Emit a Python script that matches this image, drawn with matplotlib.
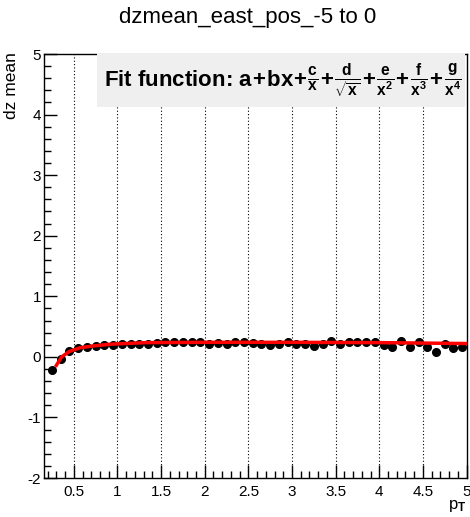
import matplotlib
matplotlib.use("Agg")
import matplotlib.pyplot as plt
from matplotlib.patches import Rectangle
from matplotlib.ticker import MultipleLocator

plt.rcParams["font.family"] = ["Liberation Sans", "DejaVu Sans"]
plt.rcParams["mathtext.fontset"] = "custom"
plt.rcParams["mathtext.rm"] = "Liberation Sans:bold"
plt.rcParams["mathtext.it"] = "Liberation Sans:bold"
plt.rcParams["mathtext.bf"] = "Liberation Sans:bold"
plt.rcParams["mathtext.sf"] = "Liberation Sans:bold"

# dz mean per pT bin
pt = [0.25, 0.35, 0.45, 0.55, 0.65, 0.75, 0.85, 0.95, 1.05, 1.15, 1.25, 1.35,
      1.45, 1.55, 1.65, 1.75, 1.85, 1.95, 2.05, 2.15, 2.25, 2.35, 2.45, 2.55,
      2.65, 2.75, 2.85, 2.95, 3.05, 3.15, 3.25, 3.35, 3.45, 3.55, 3.65, 3.75,
      3.85, 3.95, 4.05, 4.15, 4.25, 4.35, 4.45, 4.55, 4.65, 4.75, 4.85, 4.95]
dz_mean = [-0.22, -0.03, 0.10, 0.14, 0.17, 0.18, 0.19, 0.20, 0.22, 0.22, 0.22, 0.22,
           0.23, 0.24, 0.24, 0.24, 0.24, 0.24, 0.22, 0.23, 0.21, 0.24, 0.24, 0.23,
           0.22, 0.19, 0.22, 0.25, 0.22, 0.22, 0.18, 0.22, 0.26, 0.22, 0.25, 0.24,
           0.24, 0.24, 0.20, 0.17, 0.26, 0.17, 0.25, 0.17, 0.08, 0.22, 0.14, 0.16]

# fitted curve samples
fit_x = [0.30, 0.36, 0.45, 0.57, 0.72, 0.93, 1.33, 2.0, 3.0, 4.0, 5.0]
fit_y = [-0.14, 0.00, 0.09, 0.15, 0.18, 0.21, 0.235, 0.24, 0.24, 0.235, 0.22]

W, H = 470, 517
fig = plt.figure(figsize=(W / 100, H / 100), dpi=100)
ax = fig.add_axes([43.7 / W, 1 - 478 / H, (466.5 - 43.7) / W, (478 - 54) / H])

ax.set_xlim(0.155, 5.0)
ax.set_ylim(-2, 5)

for gx in [0.5, 1.0, 1.5, 2.0, 2.5, 3.0, 3.5, 4.0, 4.5]:
    ax.axvline(gx, color="black", lw=0.8, ls=(0, (1, 2)), zorder=0)

ax.plot(pt, dz_mean, "o", color="black", ms=5.5, zorder=3)
ax.plot(fit_x, fit_y, "-", color="#ff0000", lw=2.5, zorder=4)

ax.xaxis.set_minor_locator(MultipleLocator(0.1))
ax.yaxis.set_minor_locator(MultipleLocator(0.2))
ax.set_xticks([0.5, 1, 1.5, 2, 2.5, 3, 3.5, 4, 4.5, 5])
ax.set_xticklabels(["0.5", "1", "1.5", "2", "2.5", "3", "3.5", "4", "4.5", "5"])
ax.set_yticks([-2, -1, 0, 1, 2, 3, 4, 5])
ax.set_yticklabels(["-2", "-1", "0", "1", "2", "3", "4", "5"])
ax.tick_params(which="major", direction="in", length=9.6, width=1, labelsize=11,
               top=False, right=False)
ax.tick_params(which="minor", direction="in", length=4.8, width=1,
               top=False, right=False)
ax.tick_params(axis="x", pad=5)
ax.tick_params(axis="y", pad=2)
for s in ax.spines.values():
    s.set_linewidth(1)
    s.set_color("black")

fig.text(248 / W, 1 - 18 / H, "dzmean_east_pos_-5 to 0", ha="center", va="center",
         fontsize=16)
fig.text(12 / W, 1 - 52 / H, "dz mean", rotation=90, ha="center", va="top",
         fontsize=12.5)
fig.text(466 / W, 1 - 506 / H, r"p$_{\rm T}$", ha="right", va="center", fontsize=12)

box = Rectangle((97 / W, 1 - 107 / H), (465 - 97) / W, (107 - 53) / H,
                transform=fig.transFigure, facecolor="#efefef", edgecolor="none",
                zorder=5)
fig.add_artist(box)
p = r"\hspace{0.06}{+}\hspace{0.06}"
formula = ("a" + p + "bx" + p + r"\frac{c}{x}" + p + r"\frac{d}{\sqrt{x}}" + p
           + r"\frac{e}{x^2}" + p + r"\frac{f}{x^3}" + p + r"\frac{g}{x^4}")
fig.text(104 / W, 1 - 81 / H, "Fit function: $" + formula + "$",
         ha="left", va="center", fontsize=16, fontweight="bold", zorder=6)

fig.savefig("out.png", dpi=100)
